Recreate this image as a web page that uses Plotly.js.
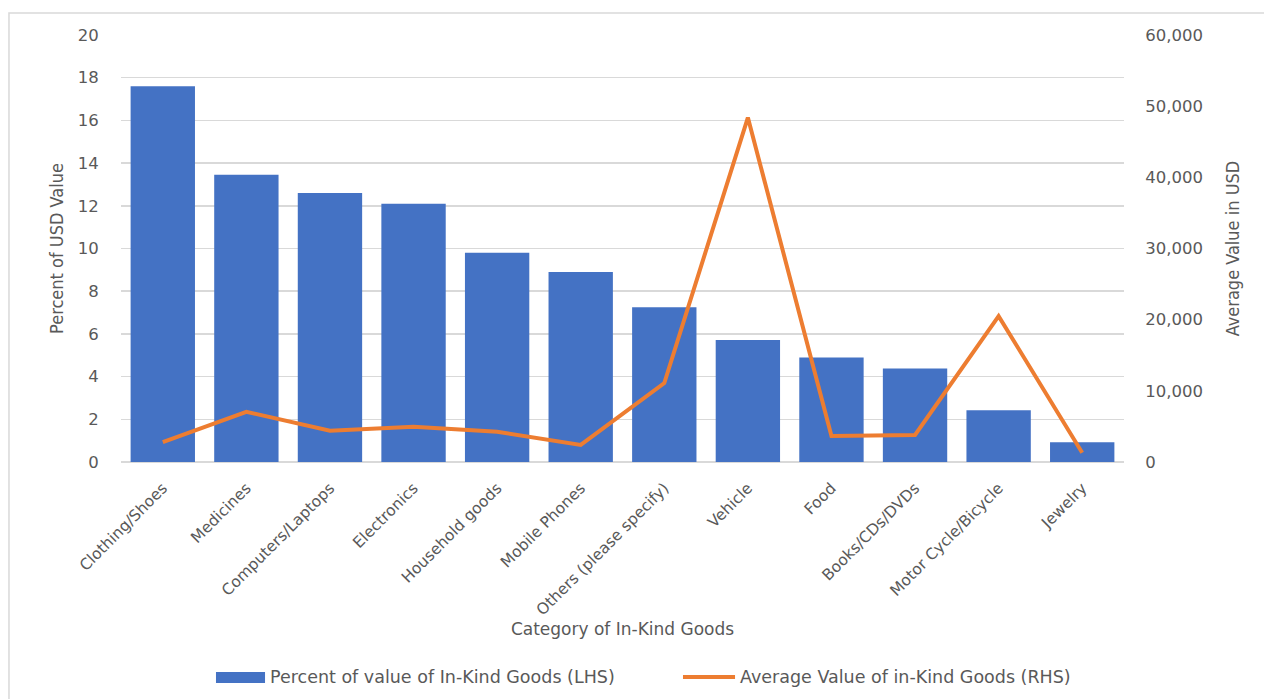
<!DOCTYPE html>
<html>
<head>
<meta charset="utf-8">
<script src="https://cdn.plot.ly/plotly-3.0.1.min.js"></script>
<style>html,body{margin:0;padding:0;background:#fff;}#chart{width:1264px;height:699px;}</style>
</head>
<body>
<div id="chart"></div>
<script>
const categories = ["Clothing/Shoes","Medicines","Computers/Laptops","Electronics","Household goods","Mobile Phones","Others (please specify)","Vehicle","Food","Books/CDs/DVDs","Motor Cycle/Bicycle","Jewelry"];
const percentValue = [17.6, 13.45, 12.6, 12.1, 9.8, 8.9, 7.25, 5.72, 4.9, 4.38, 2.42, 0.92];
const averageValue = [2800, 7050, 4400, 4950, 4250, 2400, 11100, 48400, 3650, 3800, 20500, 1300];
const seriesNames = ["Percent of value of In-Kind Goods (LHS)", "Average Value of in-Kind Goods (RHS)"];
const barColor = "#4472C4";
const lineColor = "#ED7D31";

const grey = "#595959";
const tickFont = {family: "DejaVu Sans, sans-serif", size: 16.5, color: grey};
const titleFont = {family: "DejaVu Sans Condensed, sans-serif", size: 18, color: grey};
const legendFont = {family: "DejaVu Sans, sans-serif", size: 17.5, color: grey};

const traces = [
  {type: "bar", x: categories, y: percentValue, name: seriesNames[0], marker: {color: barColor}, yaxis: "y"},
  {type: "scatter", mode: "lines", x: categories, y: averageValue, name: seriesNames[1], line: {color: lineColor, width: 4}, yaxis: "y2"}
];

const legY = -0.5035;
const layout = {
  width: 1264, height: 699,
  margin: {l: 121, r: 140, t: 35, b: 237},
  paper_bgcolor: "#fff", plot_bgcolor: "#fff",
  bargap: 0.23,
  showlegend: false,
  xaxis: {automargin: false, tickangle: -45, tickfont: {family: "DejaVu Sans, sans-serif", size: 15.5, color: grey}, showgrid: false, showline: false,
    ticks: "outside", ticklen: 10, tickcolor: "rgba(0,0,0,0)",
    title: {text: "Category of In-Kind Goods", font: {family: "DejaVu Sans, sans-serif", size: 17, color: grey}, standoff: 0}},
  yaxis: {automargin: false, range: [0, 20], dtick: 2, tickfont: tickFont, gridcolor: "#d9d9d9", gridwidth: 1.5, zeroline: true, zerolinecolor: "#d9d9d9", zerolinewidth: 1.5, showline: false, ticks: "outside", ticklen: 18, tickcolor: "rgba(0,0,0,0)",
    title: {text: "Percent of USD Value", font: titleFont, standoff: 9}},
  yaxis2: {automargin: false, range: [0, 60000], dtick: 10000, tickformat: ",d", overlaying: "y", side: "right", tickfont: tickFont, showgrid: false, zeroline: false, showline: false, ticks: "outside", ticklen: 17, tickcolor: "rgba(0,0,0,0)",
    title: {text: "Average Value in USD", font: titleFont, standoff: 24}},
  shapes: [
    {type: "rect", xref: "paper", yref: "paper", x0: -0.1117, x1: 1.2, y0: -0.7, y1: 1.0515, line: {color: "#d9d9d9", width: 1.5}, layer: "below"},
    {type: "rect", xref: "paper", yref: "paper", x0: 0.0947, x1: 0.1436, y0: -0.4918, y1: -0.5176, fillcolor: barColor, line: {width: 0}},
    {type: "line", xref: "paper", yref: "paper", x0: 0.5603, x1: 0.6122, y0: legY, y1: legY, line: {color: lineColor, width: 4}}
  ],
  annotations: [
    {xref: "paper", yref: "paper", x: 0.1466, y: legY, xanchor: "left", yanchor: "middle", showarrow: false, text: seriesNames[0], font: legendFont},
    {xref: "paper", yref: "paper", x: 0.6152, y: legY, xanchor: "left", yanchor: "middle", showarrow: false, text: seriesNames[1], font: legendFont}
  ]
};

Plotly.newPlot("chart", traces, layout, {displayModeBar: false, staticPlot: true});
</script>
</body>
</html>
